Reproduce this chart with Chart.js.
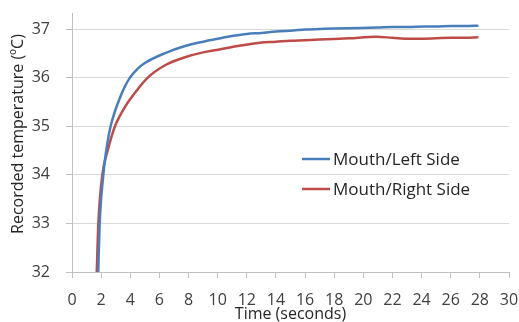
<!DOCTYPE html>
<html>
<head>
<meta charset="utf-8">
<script src="https://cdn.jsdelivr.net/npm/chart.js@4"></script>
<style>
  html, body { margin: 0; padding: 0; background: #fff; }
  #wrap { width: 519px; height: 322px; }
</style>
</head>
<body>
<div id="wrap"><canvas id="tempChart" width="519" height="322"></canvas></div>
<script>
var seriesNames = ["Mouth/Left Side", "Mouth/Right Side"];

// time (s) and temperature (°C)
var leftTime = [1.8, 1.9, 2.15, 2.4, 2.65, 3.0, 3.3, 3.6, 3.98, 4.5, 5.0, 6.36, 7.76, 9.0, 10.0, 11.07, 12.0, 13.0, 14.0, 15.2,
                16.0, 17.0, 18.0, 19.8, 21.0, 22.0, 23.0, 24.3, 25.0, 26.0, 27.0, 27.9];
var leftTemp = [32.0, 33.0, 34.0, 34.6, 35.0, 35.35, 35.59, 35.8, 36.0, 36.18, 36.3, 36.5, 36.65, 36.74, 36.8, 36.86, 36.9, 36.92, 36.95, 36.97,
                36.99, 37.0, 37.01, 37.02, 37.03, 37.04, 37.04, 37.05, 37.05, 37.06, 37.06, 37.07];

var rightTime = [1.7, 1.81, 2.08, 2.45, 2.95, 3.3, 3.64, 4.0, 5.2, 6.36, 7.76, 9.0, 9.93, 11.0, 12.9, 14.0, 15.0,
                 16.0, 17.5, 19.0, 20.9, 22.0, 23.2, 24.0, 25.0, 26.0, 27.0, 27.9];
var rightTemp = [32.0, 33.0, 34.0, 34.5, 35.0, 35.22, 35.4, 35.56, 36.0, 36.25, 36.42, 36.52, 36.57, 36.63, 36.72, 36.74, 36.76,
                 36.77, 36.79, 36.81, 36.84, 36.82, 36.8, 36.8, 36.81, 36.82, 36.82, 36.83];

var xTicks = [0, 2, 4, 6, 8, 10, 12, 14, 16, 18, 20, 22, 24, 26, 28, 30];
var yTicks = [32, 33, 34, 35, 36, 37];
var yTitle = "Recorded temperature (ºC)";

function toPoints(xs, ys) {
    return xs.map(function (x, i) { return { x: x, y: ys[i] }; });
}

var fontFamily = "'Open Sans', sans-serif";
var textColor = "#404040";

// legend inside the plot + y title placed like the original
var innerLegend = {
    id: "innerLegend",
    afterDatasetsDraw: function (chart) {
        var c = chart.ctx;
        var x0 = 302, y0 = 159, rowGap = 30;
        c.save();
        c.font = "17px " + fontFamily;
        c.textBaseline = "middle";
        chart.data.datasets.forEach(function (ds, i) {
            var y = y0 + i * rowGap;
            c.strokeStyle = ds.borderColor;
            c.lineWidth = 2.5;
            c.beginPath();
            c.moveTo(x0, y);
            c.lineTo(x0 + 28, y);
            c.stroke();
            c.fillStyle = "#262626";
            c.fillText(ds.label, x0 + 31, y + 1);
        });
        c.restore();

        c.save();
        c.translate(18, 134);
        c.rotate(-Math.PI / 2);
        c.font = "16px " + fontFamily;
        c.fillStyle = "#262626";
        c.textAlign = "center";
        c.textBaseline = "middle";
        c.fillText(yTitle, 0, 0);
        c.restore();
    }
};

var ctx = document.getElementById("tempChart").getContext("2d");

var myChart = new Chart(ctx, {
    type: "scatter",
    data: {
        datasets: [
            {
                label: seriesNames[0],
                data: toPoints(leftTime, leftTemp),
                borderColor: "#4A7EBB",
                backgroundColor: "#4A7EBB",
                borderWidth: 2.5,
                showLine: true,
                pointRadius: 0,
                cubicInterpolationMode: "monotone"
            },
            {
                label: seriesNames[1],
                data: toPoints(rightTime, rightTemp),
                borderColor: "#BE4B48",
                backgroundColor: "#BE4B48",
                borderWidth: 2.5,
                showLine: true,
                pointRadius: 0,
                cubicInterpolationMode: "monotone"
            }
        ]
    },
    options: {
        responsive: false,
        animation: false,
        layout: { padding: { top: 13, right: 10, left: 0, bottom: 0 } },
        plugins: {
            legend: { display: false },
            tooltip: { enabled: false }
        },
        scales: {
            x: {
                type: "linear",
                min: 0,
                max: 30,
                afterFit: function (s) {
                    s.height = 50;
                    s.paddingLeft = 0;
                    s.paddingRight = 0;
                },
                afterBuildTicks: function (s) {
                    s.ticks = xTicks.map(function (v) { return { value: v }; });
                },
                grid: {
                    display: true,
                    drawOnChartArea: false,
                    drawTicks: true,
                    tickLength: 6,
                    color: "#BFBFBF"
                },
                border: { color: "#BFBFBF", width: 1 },
                ticks: {
                    font: { family: fontFamily, size: 16 },
                    color: textColor,
                    padding: 13,
                    maxRotation: 0,
                    autoSkip: false
                },
                title: {
                    display: true,
                    text: "Time (seconds)",
                    font: { family: fontFamily, size: 16 },
                    color: "#262626",
                    padding: { top: 0, bottom: -2 }
                }
            },
            y: {
                type: "linear",
                min: 32,
                max: 37.33,
                afterFit: function (s) {
                    s.width = 72;
                    s.paddingTop = 0;
                    s.paddingBottom = 0;
                },
                afterBuildTicks: function (s) {
                    s.ticks = yTicks.map(function (v) { return { value: v }; });
                },
                grid: {
                    color: "#D9D9D9",
                    lineWidth: 1,
                    tickLength: 6,
                    tickColor: "#BFBFBF"
                },
                border: { color: "#BFBFBF", width: 1 },
                ticks: {
                    font: { family: fontFamily, size: 16 },
                    color: textColor,
                    padding: 16
                }
            }
        }
    },
    plugins: [innerLegend]
});
</script>
</body>
</html>
